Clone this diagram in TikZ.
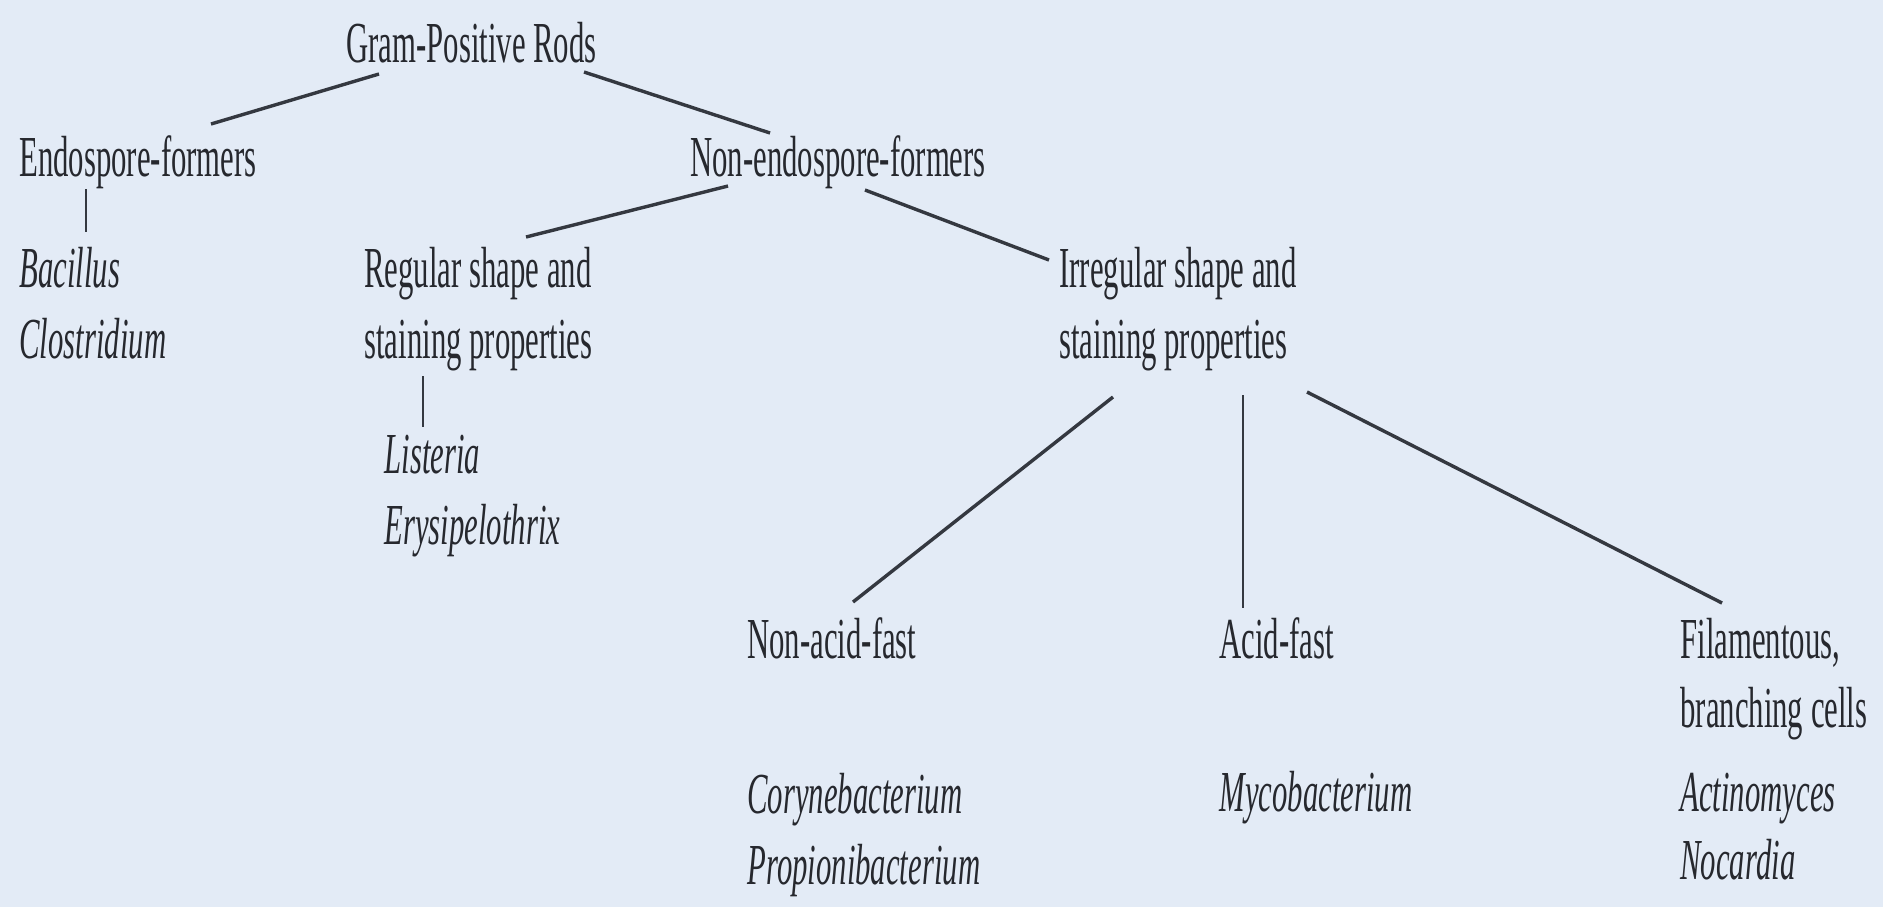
\documentclass[tikz,border=0pt]{standalone}
\usepackage{fontspec}
\setmainfont{Liberation Serif}[FakeStretch=0.53]
\definecolor{bg}{RGB}{227,235,246}
\definecolor{ink}{RGB}{38,40,46}
\definecolor{linec}{RGB}{52,56,64}
\begin{document}
\begin{tikzpicture}[x=0.5pt,y=-0.5pt,
  lbl/.style={anchor=base west,inner sep=0pt,text=ink,font=\fontsize{29pt}{36pt}\selectfont},
  gen/.style={lbl,font=\fontsize{29pt}{36pt}\selectfont\itshape},
  thick link/.style={draw=linec,line width=1.7pt},
  thin link/.style={draw=linec,line width=0.9pt}]
\fill[bg] (0,0) rectangle (1883,907);
\useasboundingbox (0,0) rectangle (1883,907);
% texts
\node[lbl] (gpr) at (346,62) {Gram-Positive Rods};
\node[lbl] (endo) at (19,176) {Endospore-formers};
\node[lbl] (nonendo) at (690,176) {Non-endospore-formers};
\node[gen] (bac) at (19,287) {Bacillus};
\node[gen] (clo) at (19,358) {Clostridium};
\node[lbl] (reg1) at (364,287) {Regular shape and};
\node[lbl] (reg2) at (364,358) {staining properties};
\node[gen] (lis) at (384,473) {Listeria};
\node[gen] (ery) at (384,544) {Erysipelothrix};
\node[lbl] (irr1) at (1059,287) {Irregular shape and};
\node[lbl] (irr2) at (1059,358) {staining properties};
\node[lbl] (naf) at (747,658) {Non-acid-fast};
\node[lbl] (af) at (1219,658) {Acid-fast};
\node[lbl] (fil1) at (1680,658) {Filamentous,};
\node[lbl] (fil2) at (1680,727) {branching cells};
\node[gen] (cor) at (747,813) {Corynebacterium};
\node[gen] (pro) at (747,884) {Propionibacterium};
\node[gen] (myc) at (1219,811) {Mycobacterium};
\node[gen] (act) at (1680,811) {Actinomyces};
\node[gen] (noc) at (1680,879) {Nocardia};
% connector end points
\coordinate (gprL) at (379,74);
\coordinate (gprR) at (584,72);
\coordinate (endoT) at (211,124);
\coordinate (nonendoT) at (770,133);
\coordinate (endoB) at (86,189);
\coordinate (bacT) at (86,232);
\coordinate (nonendoL) at (728,186);
\coordinate (nonendoR) at (865,190);
\coordinate (regT) at (526,237);
\coordinate (irrT) at (1049,260);
\coordinate (regB) at (423,376);
\coordinate (lisT) at (423,427);
\coordinate (irrBL) at (1113,397);
\coordinate (irrBM) at (1243,395);
\coordinate (irrBR) at (1307,392);
\coordinate (nafT) at (853,602);
\coordinate (afT) at (1243,608);
\coordinate (filT) at (1722,603);
% connectors
\draw[thick link] (gprL) -- (endoT);
\draw[thick link] (gprR) -- (nonendoT);
\draw[thin link] (endoB) -- (bacT);
\draw[thick link] (nonendoL) -- (regT);
\draw[thick link] (nonendoR) -- (irrT);
\draw[thin link] (regB) -- (lisT);
\draw[thick link] (irrBL) -- (nafT);
\draw[thin link] (irrBM) -- (afT);
\draw[thick link] (irrBR) -- (filT);
\end{tikzpicture}
\end{document}
